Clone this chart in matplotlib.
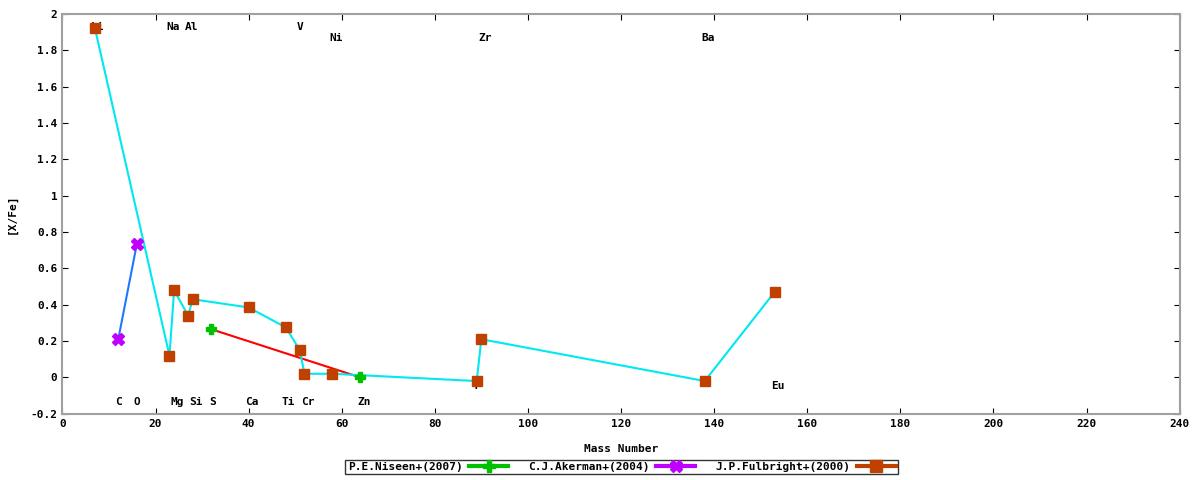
import matplotlib.pyplot as plt
from matplotlib.lines import Line2D

plt.rcParams['font.family'] = ['DejaVu Sans Mono']
plt.rcParams['font.weight'] = 'bold'

# Data
fulbright_mass = [7, 23, 24, 27, 28, 40, 48, 51, 52, 58, 89, 90, 138, 153]
fulbright_xfe = [1.92, 0.12, 0.48, 0.34, 0.43, 0.385, 0.275, 0.15, 0.02, 0.02, -0.02, 0.21, -0.02, 0.47]

akerman_mass = [12, 16]
akerman_xfe = [0.21, 0.735]

niseen_mass = [32, 64]
niseen_xfe = [0.265, 0.0]

# element labels (x, y, text)
label_x = [7.5, 23.8, 27.7, 51, 58.8, 90.8, 138.8,
           12, 16, 24.6, 28.7, 32.2, 40.8, 48.6, 52.7, 64.8, 153.6, 89]
label_y = [1.93, 1.93, 1.93, 1.93, 1.865, 1.865, 1.865,
           -0.135, -0.135, -0.135, -0.135, -0.135, -0.135, -0.135, -0.135, -0.135, -0.045, -0.045]
label_txt = ['Li', 'Na', 'Al', 'V', 'Ni', 'Zr', 'Ba',
             'C', 'O', 'Mg', 'Si', 'S', 'Ca', 'Ti', 'Cr', 'Zn', 'Eu', 'Y']

fig = plt.figure(figsize=(12, 4.8), dpi=100)
ax = fig.add_axes([0.052, 0.138, 0.931, 0.833])

ax.plot(niseen_mass, niseen_xfe, color='#ff0000', lw=1.5, zorder=2)
ax.plot(niseen_mass, niseen_xfe, ls='none', marker='P', ms=7.5, color='#00c000', zorder=4)

ax.plot(akerman_mass, akerman_xfe, color='#1e78ff', lw=1.5, zorder=2)
ax.plot(akerman_mass, akerman_xfe, ls='none', marker='X', ms=8, color='#c000ff', zorder=4)

ax.plot(fulbright_mass, fulbright_xfe, color='#00e8f0', lw=1.5, zorder=3)
ax.plot(fulbright_mass, fulbright_xfe, ls='none', marker='s', ms=7, color='#c04000', zorder=4)

for x, y, t in zip(label_x, label_y, label_txt):
    ax.text(x, y, t, ha='center', va='center', fontsize=8, fontweight='bold', zorder=1)

ax.set_xlim(0, 240)
ax.set_ylim(-0.2, 2)
ax.set_xticks(range(0, 241, 20))
ax.set_yticks([-0.2, 0, 0.2, 0.4, 0.6, 0.8, 1, 1.2, 1.4, 1.6, 1.8, 2])
ax.set_yticklabels(['-0.2', '0', '0.2', '0.4', '0.6', '0.8', '1', '1.2', '1.4', '1.6', '1.8', '2'])
ax.tick_params(direction='in', top=True, right=True, labelsize=8, length=4)
for lab in ax.get_xticklabels() + ax.get_yticklabels():
    lab.set_fontweight('bold')
for s in ax.spines.values():
    s.set_color('#a0a0a0')
    s.set_linewidth(1.5)

ax.set_xlabel('Mass Number', fontsize=8, fontweight='bold', labelpad=11)
ax.set_ylabel('[X/Fe]', fontsize=8, fontweight='bold', labelpad=10)

handles = [
    Line2D([], [], color='#00c000', lw=3, marker='P', ms=8),
    Line2D([], [], color='#c000ff', lw=3, marker='X', ms=9),
    Line2D([], [], color='#c04000', lw=3, marker='s', ms=8),
]
labels = ['P.E.Niseen+(2007)', 'C.J.Akerman+(2004)', 'J.P.Fulbright+(2000)']
leg = fig.legend(handles, labels, loc='lower center', bbox_to_anchor=(0.518, 0.0), ncol=3,
                 markerfirst=False, fontsize=8, frameon=True, fancybox=False,
                 handlelength=3.5, columnspacing=1.8, borderpad=0.2, handletextpad=0.6)
leg.get_frame().set_edgecolor('black')
for t in leg.get_texts():
    t.set_fontweight('bold')

fig.savefig('out.png', dpi=100)
